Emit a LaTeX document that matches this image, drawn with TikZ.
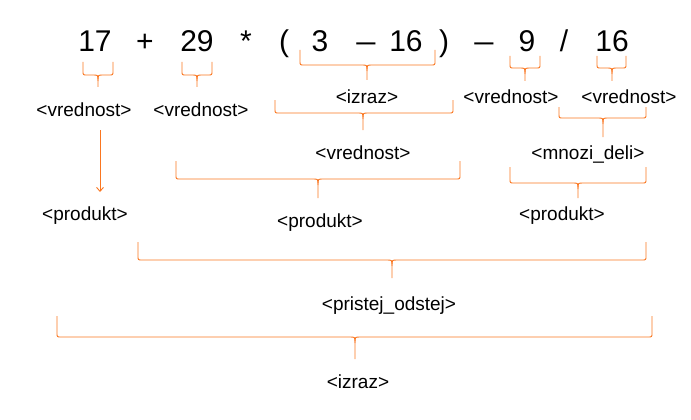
\documentclass[tikz,border=0pt]{standalone}
\usepackage{fontspec}
\setmainfont{Liberation Sans}
\usetikzlibrary{arrows.meta}
\definecolor{br}{RGB}{250,118,32}
\newcommand{\ubr}[6]{%
  % x1, x2, xm, ytop, ybar, ytip
  \draw[brline] (#1,#4) -- (#1,#5-4) .. controls (#1,#5) .. (#1+4,#5) -- (#3-5,#5)
     .. controls (#3,#5) .. (#3,#5+6) -- (#3,#6);
  \draw[brline] (#2,#4) -- (#2,#5-4) .. controls (#2,#5) .. (#2-4,#5) -- (#3+5,#5)
     .. controls (#3,#5) .. (#3,#5+6);
}
\begin{document}
\begin{tikzpicture}[x=1pt,y=-1pt,
  brline/.style={draw=br,line width=0.9pt},
  tok/.style={anchor=base,inner sep=0pt,font=\fontsize{30}{30}\selectfont},
  lab/.style={anchor=base,inner sep=0pt,font=\fontsize{19}{19}\selectfont}]
\useasboundingbox (0,0) rectangle (691,420);
% tokens
\node[tok] (t1) at (95,52) {17};
\node[tok] (t2) at (145,52) {+};
\node[tok] (t3) at (197,52) {29};
\node[tok] (t4) at (246,52) {*};
\node[tok] (t5) at (284,52) {(};
\node[tok] (t6) at (320,52) {3};
\node[tok] (t7) at (366,52) {\scalebox{1.15}[1]{--}};
\node[tok] (t8) at (406,52) {16};
\node[tok] (t9) at (444,52) {)};
\node[tok] (t10) at (484,52) {\scalebox{1.15}[1]{--}};
\node[tok] (t11) at (527,52) {9};
\node[tok] (t12) at (564,52) {/};
\node[tok] (t13) at (612,52) {16};
% labels
\node[lab] (v1) at (84,116) {<vrednost>};
\node[lab] (v2) at (201,116) {<vrednost>};
\node[lab] (iz1) at (367,103) {<izraz>};
\node[lab] (v3) at (511,103) {<vrednost>};
\node[lab] (v4) at (629,103) {<vrednost>};
\node[lab] (v5) at (363,159) {<vrednost>};
\node[lab] (md) at (588,159) {<mnozi\_deli>};
\node[lab] (p1) at (85,220) {<produkt>};
\node[lab] (p2) at (320,227) {<produkt>};
\node[lab] (p3) at (562,220) {<produkt>};
\node[lab] (po) at (389,310) {<pristej\_odstej>};
\node[lab] (iz2) at (358,388) {<izraz>};
% braces
\ubr{83}{113}{98}{62}{75}{87}
\ubr{182}{212}{197}{62}{75}{87}
\ubr{300}{435}{367}{50}{65}{80}
\ubr{510}{540}{525}{56}{68}{81}
\ubr{597}{626}{612}{56}{68}{81}
\ubr{275}{453}{363}{100}{113}{130}
\ubr{559}{646}{603}{107}{118}{137}
\ubr{176}{460}{318}{161}{179}{198}
\ubr{510}{646}{578}{167}{183}{198}
\ubr{138}{646}{392}{242}{260}{278}
\ubr{57}{652}{355}{316}{337}{359}
% arrow
\coordinate (a0) at (100,130);
\draw[brline,-{Straight Barb[length=4pt,width=7pt]}] (a0) -- (100,192);
\end{tikzpicture}
\end{document}
